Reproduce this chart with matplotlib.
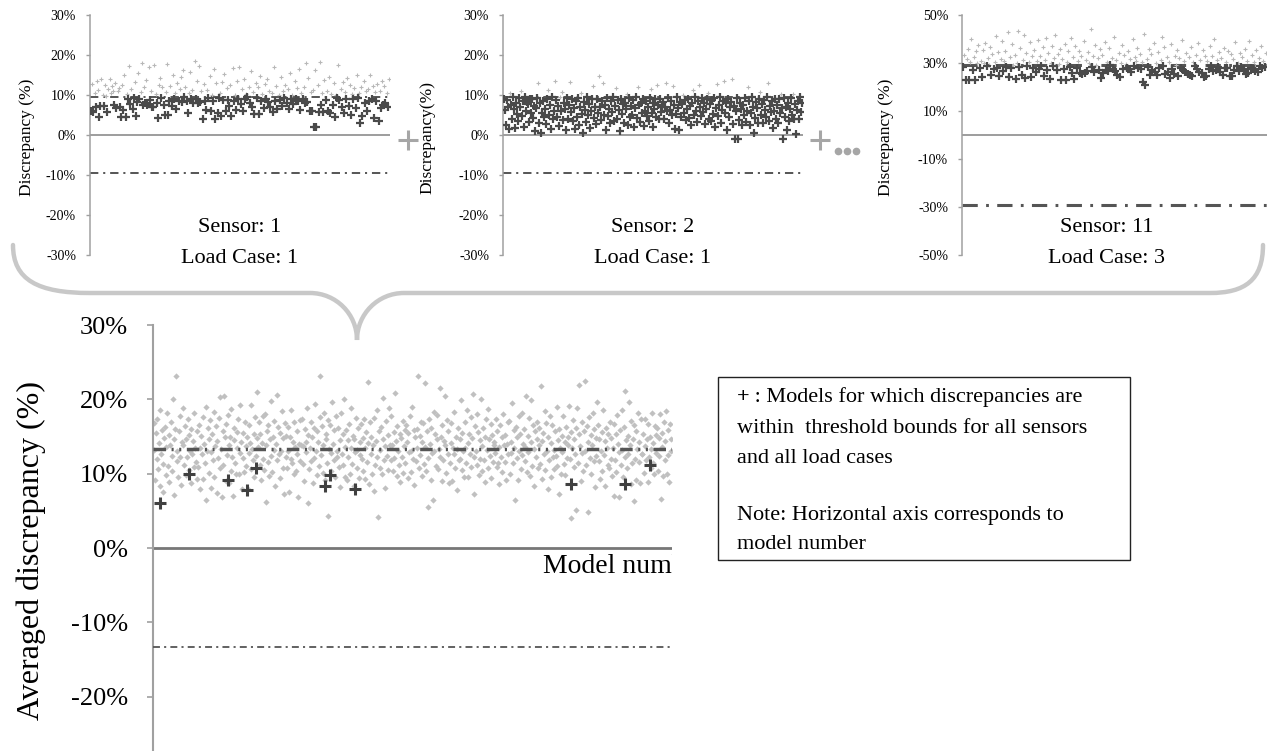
import numpy as np
import matplotlib
matplotlib.use("Agg")
import matplotlib.pyplot as plt
from matplotlib.path import Path
from matplotlib.patches import PathPatch, Rectangle

plt.rcParams["font.family"] = ["Liberation Serif", "DejaVu Serif"]
plt.rcParams["lines.scale_dashes"] = False

# ---- data (discrepancy in %, one value per model) ----
sensor1_lc1 = [
    6.1, 12.8, 5.8, 10.4, 7.0, 13.6, 11.2, 4.6, 7.2, 14.0, 10.1, 7.3, 12.4, 9.8, 5.7, 11.5, 13.9, 10.6, 12.2, 11.0,
    7.4, 12.9, 6.8, 10.9, 11.8, 7.1, 4.5, 12.5, 6.2, 15.1, 4.4, 10.2, 8.9, 17.3, 7.8, 11.4, 6.5, 9.2, 13.2, 4.7,
    8.3, 15.6, 9.0, 10.7, 18.1, 7.5, 12.0, 8.0, 13.8, 7.6, 16.9, 8.8, 11.1, 6.9, 7.0, 17.6, 10.3, 8.1, 4.3, 12.6,
    14.2, 9.3, 11.9, 7.4, 5.0, 10.8, 17.7, 4.9, 8.4, 12.3, 7.2, 15.0, 9.1, 10.5, 6.4, 13.1, 8.6, 11.6, 14.5, 8.2,
    16.2, 9.4, 12.1, 8.5, 5.5, 10.4, 15.8, 8.9, 11.3, 7.9, 18.6, 9.0, 13.5, 8.0, 17.2, 8.3, 10.9, 4.1, 12.7, 8.6,
    6.2, 11.2, 9.3, 14.7, 6.1, 10.1, 8.4, 16.4, 4.0, 12.9, 5.6, 9.2, 10.6, 4.8, 13.3, 8.7, 15.2, 5.9, 11.7, 8.8,
    7.3, 12.4, 4.7, 16.8, 8.5, 10.0, 6.3, 13.6, 9.1, 17.0, 7.7, 11.5, 6.0, 14.1, 8.9, 10.3, 9.4, 12.0, 8.0, 16.0,
    7.1, 10.8, 5.3, 13.0, 9.2, 11.9, 5.2, 14.8, 8.6, 10.2, 6.8, 12.8, 9.0, 13.9, 8.3, 11.1, 7.0, 10.6, 5.8, 16.9,
    8.4, 12.2, 6.6, 9.9, 8.8, 14.4, 7.2, 10.9, 9.3, 12.6, 8.1, 11.4, 6.4, 15.5, 8.9, 10.1, 7.8, 13.4, 9.1, 11.8,
    8.5, 16.4, 6.3, 10.5, 9.0, 12.1, 7.9, 17.9, 8.2, 14.2, 5.9, 10.7, 6.1, 11.3, 2.1, 16.3, 1.9, 12.5, 5.8, 18.3,
    7.6, 10.4, 5.7, 13.7, 8.8, 11.0, 6.0, 14.6, 5.5, 10.2, 7.4, 12.9, 4.4, 9.9, 9.2, 17.4, 8.7, 11.6, 6.9, 13.2,
    5.6, 10.8, 8.9, 14.3, 7.2, 12.4, 5.1, 10.3, 9.0, 11.7, 6.7, 15.0, 9.3, 10.6, 2.9, 12.1, 4.8, 13.6, 8.0, 10.9,
    5.9, 11.5, 8.6, 14.9, 9.1, 12.3, 4.3, 10.7, 8.4, 12.8, 3.4, 11.1, 6.7, 13.5, 7.4, 12.2, 8.1, 10.4, 7.0, 14.0,
]
sensor2_lc1 = [
    9.1, 6.2, 2.5, 8.8, 6.9, 1.4, 10.6, 7.5, 4.0, 9.4, 6.6, 1.8, 8.1, 5.2, 3.6, 9.2, 7.0, 10.9, 4.8, 8.6,
    2.1, 9.5, 6.0, 8.3, 7.7, 3.3, 8.9, 5.4, 9.0, 4.2, 7.3, 1.0, 6.8, 9.3, 12.9, 3.0, 7.9, 0.6, 5.6, 8.4,
    4.5, 6.4, 2.7, 9.1, 11.2, 5.0, 7.6, 1.6, 9.4, 3.9, 6.1, 13.6, 8.7, 4.4, 7.2, 2.2, 9.6, 5.9, 10.8, 3.7,
    8.0, 6.5, 1.2, 9.2, 4.1, 7.4, 13.2, 5.7, 9.0, 3.5, 6.7, 1.5, 8.5, 4.6, 9.3, 2.4, 7.1, 10.5, 5.3, 0.5,
    8.2, 6.3, 3.2, 9.4, 4.9, 7.8, 1.7, 6.0, 8.9, 12.3, 4.3, 7.0, 2.8, 9.1, 5.5, 14.7, 6.9, 3.8, 8.6, 13.1,
    5.1, 7.5, 1.3, 9.3, 4.7, 6.6, 2.9, 8.4, 5.8, 9.5, 3.4, 7.2, 11.8, 4.0, 8.8, 6.2, 1.1, 9.0, 5.2, 7.7,
    3.1, 8.1, 6.4, 10.2, 2.6, 9.2, 4.5, 7.3, 5.0, 8.7, 1.9, 6.8, 9.4, 4.2, 12.0, 7.6, 3.3, 8.0, 5.6, 9.1,
    2.3, 6.1, 8.5, 4.8, 7.0, 3.6, 9.3, 11.5, 5.4, 7.9, 2.0, 6.5, 8.9, 4.4, 12.4, 7.4, 3.9, 9.0, 5.7, 6.9,
    8.3, 4.0, 7.1, 13.0, 5.9, 9.2, 3.0, 6.3, 8.6, 4.9, 12.2, 7.5, 1.4, 5.3, 9.4, 6.7, 1.2, 8.2, 4.6, 7.8,
    10.1, 5.5, 8.8, 3.7, 6.4, 9.1, 4.3, 7.2, 2.5, 8.0, 11.3, 5.0, 9.5, 6.0, 3.2, 8.4, 12.6, 7.0, 4.8, 9.3,
    5.8, 8.1, 2.8, 6.6, 9.0, 10.4, 4.1, 7.7, 3.5, 8.7, 5.2, 9.2, 2.1, 6.8, 12.8, 4.7, 7.4, 9.4, 3.0, 6.2,
    8.5, 13.5, 5.6, 7.9, 1.3, 9.1, 4.4, 6.9, 8.3, 14.1, 2.7, 7.2, -0.9, 5.9, 9.3, -1.0, 3.8, 8.0, 6.5, 2.4,
    7.6, 4.9, 9.2, 3.3, 6.1, 12.1, 8.6, 2.6, 5.4, 9.4, 7.0, 0.6, 4.2, 8.2, 6.7, 3.1, 9.0, 10.7, 5.1, 7.8,
    2.9, 8.8, 6.3, 4.5, 9.5, 13.0, 3.6, 7.3, 5.7, 8.4, 1.8, 6.0, 9.1, 4.0, 7.5, 3.0, 8.9, 5.5, 10.3, 6.8,
    -0.9, 9.2, 4.6, 7.1, 1.2, 8.0, 3.4, 6.4, 9.3, 5.0, 10.2, 4.1, 7.7, 0.3, 6.2, 8.5, 3.9, 9.4, 5.8, 7.9,
]
sensor11_lc3 = [
    28.4, 33.2, 23.1, 31.5, 36.0, 22.8, 30.6, 40.1, 27.2, 32.4, 23.0, 34.8, 29.8, 37.5, 27.9, 31.0, 24.0, 35.6, 30.2, 38.3,
    28.8, 32.1, 29.1, 36.7, 24.9, 33.9, 27.6, 30.4, 41.2, 28.1, 34.5, 24.6, 31.8, 39.0, 26.7, 30.9, 35.1, 28.5, 42.8, 24.1,
    32.7, 27.9, 37.8, 29.3, 33.5, 23.4, 30.1, 43.4, 28.2, 36.2, 25.0, 31.2, 41.6, 23.7, 34.0, 28.6, 30.5, 38.9, 24.3, 32.9,
    28.0, 35.4, 26.2, 30.8, 39.7, 27.3, 33.1, 28.9, 36.5, 24.4, 31.4, 40.3, 27.0, 34.3, 23.5, 30.0, 37.1, 28.7, 32.2, 41.8,
    26.9, 33.7, 29.6, 35.8, 23.0, 31.6, 27.4, 38.0, 22.9, 30.3, 34.9, 28.3, 40.6, 26.0, 32.5, 23.2, 36.9, 27.8, 30.7, 35.2,
    25.9, 33.0, 25.4, 39.3, 25.7, 31.1, 26.6, 34.6, 30.0, 44.0, 28.2, 32.8, 26.3, 37.4, 29.2, 31.9, 27.1, 35.7, 23.9, 33.4,
    26.0, 38.7, 27.0, 30.6, 26.5, 36.1, 29.0, 32.0, 27.7, 41.0, 26.8, 31.3, 25.1, 34.2, 24.2, 30.2, 37.7, 27.5, 33.3, 29.4,
    28.1, 35.0, 27.3, 31.7, 26.4, 39.9, 28.7, 32.3, 30.9, 36.4, 28.0, 33.6, 27.6, 30.4, 22.0, 42.2, 21.0, 31.5, 28.5, 35.9,
    24.8, 33.8, 27.2, 38.2, 26.1, 30.1, 24.9, 34.4, 27.9, 31.1, 40.8, 28.6, 36.6, 25.5, 32.6, 26.2, 30.5, 23.6, 37.9, 27.4,
    25.6, 33.1, 29.2, 35.3, 24.7, 31.9, 28.0, 39.5, 26.9, 30.8, 26.4, 34.0, 25.3, 32.4, 25.0, 36.8, 24.5, 30.3, 28.9, 33.5,
    27.7, 38.4, 26.2, 31.4, 25.9, 35.5, 24.0, 32.9, 24.4, 30.7, 27.5, 37.0, 28.8, 33.0, 26.5, 39.8, 27.1, 31.2, 28.3, 34.7,
    26.1, 32.0, 25.2, 36.3, 28.0, 30.6, 27.8, 35.2, 24.6, 33.7, 24.7, 31.6, 27.0, 38.6, 28.9, 30.1, 26.7, 34.1, 28.2, 32.7,
    27.3, 36.0, 25.5, 31.0, 25.8, 39.2, 28.1, 33.2, 27.6, 30.4, 26.8, 35.6, 26.3, 32.1, 28.9, 37.2, 27.9, 30.9, 28.3, 34.3,
]
thresholds = [9.5, 9.5, 29.0]
panel_titles = ["Sensor: 1\nLoad Case: 1", "Sensor: 2\nLoad Case: 1", "Sensor: 11\nLoad Case: 3"]
panel_ylabels = ["Discrepancy (%)", "Discrepancy(%)", "Discrepancy (%)"]
small_ticks = [[30, 20, 10, 0, -10, -20, -30], [30, 20, 10, 0, -10, -20, -30], [50, 30, 10, -10, -30, -50]]
small_ticklabels = [["30%", "20%", "10%", "0%", "-10%", "-20%", "-30%"],
                    ["30%", "20%", "10%", "0%", "-10%", "-20%", "-30%"],
                    ["50%", "30%", "10%", "-10%", "-30%", "-50%"]]

averaged = [
    16.8, 13.2, 9.1, 15.5, 12.0, 17.4, 10.6, 14.1, 8.3, 18.5, 12.7, 15.9, 11.3, 7.6, 14.8, 16.3, 9.8, 13.6, 18.1, 11.0,
    15.2, 8.9, 13.9, 17.0, 10.3, 12.4, 20.1, 14.6, 7.1, 16.0, 23.1, 11.7, 13.1, 9.5, 15.7, 17.8, 12.2, 8.5, 14.3, 18.9,
    13.9, 11.2, 16.4, 9.8, 14.6, 12.3, 17.3, 10.5, 15.2, 13.0, 8.7, 16.0, 12.6, 14.4, 10.9, 18.1, 13.5, 11.6, 15.8, 9.3,
    10.9, 16.6, 13.4, 7.9, 15.1, 12.6, 17.6, 9.3, 14.0, 11.5, 19.0, 6.4, 13.0, 16.2, 10.1, 14.7, 17.2, 8.1, 12.9, 15.4,
    11.8, 18.3, 9.6, 13.7, 16.4, 7.4, 14.4, 12.1, 17.5, 10.7, 20.3, 13.3, 6.9, 15.8, 11.2, 20.4, 14.9, 9.0, 16.7, 12.5,
    17.9, 8.7, 13.8, 15.0, 10.4, 18.7, 12.3, 7.0, 14.5, 16.1, 11.4, 9.9, 15.6, 13.5, 17.3, 10.0, 12.8, 19.2, 14.2, 8.0,
    12.1, 15.5, 10.2, 17.0, 13.7, 11.0, 14.9, 8.0, 16.6, 12.8, 14.1, 10.6, 19.3, 13.3, 11.9, 15.4, 9.6, 17.6, 12.4, 14.8,
    21.0, 13.6, 16.9, 11.1, 15.3, 9.2, 14.1, 17.7, 12.0, 10.5, 18.0, 13.9, 6.2, 15.8, 11.6, 16.5, 9.7, 14.6, 12.4, 19.8,
    10.2, 15.0, 13.2, 17.1, 8.4, 14.0, 20.6, 11.9, 16.3, 12.6, 9.4, 15.5, 13.0, 18.4, 10.8, 14.8, 7.2, 16.8, 12.2, 15.1,
    10.8, 16.3, 13.1, 7.5, 15.0, 12.0, 18.5, 11.4, 14.3, 9.9, 16.9, 13.6, 10.3, 15.7, 12.7, 6.9, 14.0, 17.2, 11.7, 13.8,
    17.4, 11.3, 13.7, 9.0, 16.0, 14.3, 12.9, 18.8, 6.0, 15.2, 10.6, 13.5, 17.0, 11.7, 14.9, 8.8, 16.2, 12.1, 19.4, 13.1,
    9.8, 15.7, 14.2, 11.0, 17.6, 23.2, 12.5, 16.4, 10.1, 13.8, 18.2, 9.1, 15.4, 14.7, 11.5, 17.2, 4.3, 13.3, 16.6, 12.8,
    10.4, 19.6, 14.0, 11.8, 15.9, 9.5, 17.8, 13.0, 12.3, 16.1, 10.9, 14.5, 8.2, 18.1, 12.7, 15.3, 11.2, 20.0, 13.6, 9.6,
    15.9, 9.1, 14.5, 12.2, 16.7, 10.0, 13.4, 18.9, 11.3, 15.1, 8.4, 14.7, 12.9, 17.5, 10.7, 13.2, 16.1, 9.4, 14.2, 12.5,
    16.7, 12.0, 14.8, 10.3, 17.3, 13.4, 9.3, 15.6, 11.6, 22.3, 14.1, 8.6, 16.9, 12.6, 15.0, 10.0, 13.9, 7.7, 17.5, 11.1,
    14.4, 18.6, 12.2, 4.2, 15.8, 10.7, 13.2, 16.3, 9.9, 14.6, 20.2, 11.9, 13.7, 8.1, 17.1, 12.4, 15.2, 10.5, 18.9, 13.8,
    17.8, 11.8, 13.9, 10.4, 15.6, 12.1, 20.8, 14.4, 9.7, 16.4, 13.0, 11.1, 15.3, 8.9, 14.8, 12.3, 17.1, 10.1, 13.7, 15.9,
    11.4, 16.5, 14.3, 9.4, 15.5, 12.9, 17.7, 10.2, 13.1, 19.0, 12.0, 15.9, 8.5, 14.9, 11.7, 16.0, 13.5, 23.1, 10.8, 15.1,
    12.5, 17.0, 9.7, 14.2, 16.8, 11.3, 13.6, 22.2, 10.4, 15.7, 12.1, 5.5, 17.4, 14.0, 9.2, 16.2, 12.8, 6.4, 18.3, 13.0,
    15.4, 11.0, 14.7, 17.9, 10.6, 13.3, 21.5, 12.3, 15.0, 9.0, 16.6, 11.8, 14.4, 20.4, 13.9, 10.1, 17.2, 12.7, 15.8, 8.7,
    11.5, 14.1, 16.8, 9.0, 13.5, 12.6, 18.3, 10.8, 15.0, 13.3, 7.8, 16.2, 11.9, 14.6, 12.0, 19.9, 10.5, 15.5, 13.1, 9.5,
    13.4, 16.9, 11.5, 18.5, 14.1, 9.6, 15.3, 12.6, 17.6, 10.9, 14.8, 20.7, 12.2, 7.3, 16.4, 13.1, 18.0, 11.2, 15.6, 9.8,
    14.5, 12.0, 20.0, 13.7, 10.3, 16.1, 11.9, 15.0, 8.9, 17.3, 13.2, 10.7, 18.7, 14.6, 12.4, 16.7, 9.4, 15.2, 11.6, 13.9,
    14.3, 12.8, 17.4, 10.9, 15.8, 11.4, 13.6, 8.6, 16.5, 12.2, 14.9, 10.2, 18.0, 13.8, 11.6, 15.2, 9.2, 14.0, 16.9, 12.7,
    17.1, 10.0, 14.3, 12.8, 19.5, 11.4, 15.9, 13.5, 6.5, 16.3, 12.1, 14.9, 9.1, 17.8, 13.0, 15.4, 10.6, 18.2, 12.5, 14.0,
    16.0, 11.7, 13.6, 20.5, 10.2, 15.1, 12.9, 17.5, 9.7, 14.2, 19.9, 11.0, 16.5, 13.3, 8.3, 15.7, 12.2, 14.7, 17.0, 10.8,
    13.8, 16.2, 11.3, 21.8, 14.4, 9.3, 15.5, 12.7, 18.4, 10.5, 16.8, 13.1, 7.9, 15.0, 11.8, 17.7, 14.1, 9.6, 16.6, 12.3,
    13.2, 10.6, 15.7, 12.4, 19.0, 11.0, 14.5, 7.3, 16.0, 13.4, 10.0, 15.1, 12.9, 17.7, 11.3, 14.2, 9.8, 16.3, 12.1, 13.9,
    14.9, 19.1, 12.0, 15.6, 4.0, 13.4, 17.2, 10.9, 14.6, 12.6, 16.1, 5.1, 18.8, 11.5, 15.3, 21.9, 13.7, 9.0, 16.9, 12.8,
    10.4, 15.8, 13.0, 22.4, 11.2, 16.4, 4.8, 14.3, 17.6, 12.1, 15.2, 9.9, 13.9, 18.1, 11.7, 16.0, 8.2, 14.8, 12.4, 19.7,
    16.6, 11.7, 14.7, 9.3, 13.0, 15.6, 10.4, 18.6, 12.5, 14.4, 8.3, 16.1, 13.5, 11.2, 15.3, 10.7, 17.0, 12.0, 14.8, 9.7,
    13.5, 7.0, 16.7, 11.9, 15.4, 10.2, 17.9, 14.0, 6.8, 12.9, 15.9, 11.1, 18.6, 13.2, 9.5, 16.3, 12.2, 21.1, 14.5, 10.7,
    15.1, 12.6, 19.6, 13.8, 8.6, 17.1, 11.4, 14.7, 6.3, 16.5, 12.0, 15.7, 9.2, 13.3, 18.2, 11.6, 14.2, 8.8, 17.4, 12.7,
    12.6, 15.4, 10.1, 17.3, 13.7, 11.8, 14.6, 8.9, 16.7, 12.3, 15.0, 10.8, 13.3, 18.2, 11.5, 14.1, 9.9, 16.4, 12.8, 15.2,
    16.1, 10.3, 14.8, 12.4, 18.0, 6.6, 15.5, 13.6, 9.7, 17.0, 11.8, 14.4, 18.4, 10.0, 15.9, 12.5, 8.9, 16.7, 13.1, 14.6,
]
accepted_models = [10, 48, 101, 127, 139, 232, 239, 273, 564, 637, 671]
accepted_values = [6.0, 10.0, 9.1, 7.8, 10.7, 8.4, 9.8, 7.9, 8.6, 8.6, 11.2]
avg_threshold = 13.3
big_ticks = [30, 20, 10, 0, -10, -20]
big_ticklabels = ["30%", "20%", "10%", "0%", "-10%", "-20%"]

W, H = 1267, 751
fig = plt.figure(figsize=(W / 100, H / 100), dpi=100)


def px_axes(x0, ytop, w, h):
    return fig.add_axes([x0 / W, 1 - (ytop + h) / H, w / W, h / H])


# overlay for the brace, plus signs and the note box
ov = px_axes(0, 0, W, H)
ov.set_xlim(0, W)
ov.set_ylim(H, 0)
ov.axis("off")
verts = [(13, 245), (13, 280), (38, 293), (90, 293),
         (310, 293),
         (336, 293), (357, 314), (357, 340),
         (357, 314), (378, 293), (404, 293),
         (1210, 293),
         (1245, 293), (1263, 280), (1263, 245)]
codes = [Path.MOVETO, Path.CURVE4, Path.CURVE4, Path.CURVE4,
         Path.LINETO,
         Path.CURVE4, Path.CURVE4, Path.CURVE4,
         Path.CURVE4, Path.CURVE4, Path.CURVE4,
         Path.LINETO,
         Path.CURVE4, Path.CURVE4, Path.CURVE4]
ov.add_patch(PathPatch(Path(verts, codes), fill=False, edgecolor="#c8c8c8", lw=3.2, capstyle="round"))
ov.plot([408, 820], [140, 140], ls="none", marker="+", ms=15, mew=2.2, color="#a6a6a6")
ov.plot([838, 847, 856], [151, 151, 151], ls="none", marker="o", ms=4.5, color="#a6a6a6")

ov.add_patch(Rectangle((718, 377), 412, 183, fill=False, edgecolor="#222222", lw=1))
ov.text(737, 402, "+", fontsize=16, fontweight="bold", va="baseline", ha="left")
ov.text(749, 402, " : Models for which discrepancies are", fontsize=16, va="baseline", ha="left")
ov.text(737, 433, "within  threshold bounds for all sensors", fontsize=16, va="baseline", ha="left")
ov.text(737, 463, "and all load cases", fontsize=16, va="baseline", ha="left")
ov.text(737, 520, "Note: Horizontal axis corresponds to", fontsize=16, va="baseline", ha="left")
ov.text(737, 549, "model number", fontsize=16, va="baseline", ha="left")

# ---- three small panels ----
panel_x = [90, 503, 962]
panel_w = [300, 300, 305]
ylims = [(-30, 30), (-30, 30), (-50, 50)]
label_x = [27, 427, 886]
for k, vals in enumerate([sensor1_lc1, sensor2_lc1, sensor11_lc3]):
    ax = px_axes(panel_x[k], 15, panel_w[k], 240)
    ax.patch.set_visible(False)
    vals = np.array(vals)
    model = np.arange(1, len(vals) + 1)
    inside = np.abs(vals) <= thresholds[k]
    t = thresholds[k]
    lw_t = 2.2 if k == 2 else 1.4
    dash = (0, (11, 6, 2, 6)) if k == 2 else (0, (6, 3.5, 1.5, 3.5))
    ax.axhline(0, color="#8c8c8c", lw=1.2, zorder=1)
    ax.axhline(t, color="#555555", lw=lw_t, ls=dash, zorder=1.5)
    ax.axhline(-t, color="#555555", lw=lw_t, ls=dash, zorder=1.5)
    ax.plot(model[~inside], vals[~inside], ls="none", marker="+", ms=3, mew=0.8, color="#b8b8b8", zorder=2)
    ax.plot(model[inside], vals[inside], ls="none", marker="+", ms=5.5, mew=1.6, color="#4a4a4a", zorder=3)
    ax.set_xlim(0, len(vals) + 1)
    ax.set_ylim(*ylims[k])
    ax.set_yticks(small_ticks[k])
    ax.set_yticklabels(small_ticklabels[k])
    ax.set_xticks([])
    for s in ["top", "right", "bottom"]:
        ax.spines[s].set_visible(False)
    ax.spines["left"].set_color("#a0a0a0")
    ax.spines["left"].set_linewidth(1.1)
    ax.tick_params(axis="y", direction="out", length=3, width=1, color="#a0a0a0", pad=7, labelsize=10)
    fig.text(label_x[k] / W, 1 - 137 / H, panel_ylabels[k], rotation=90, fontsize=12.5,
             ha="center", va="center")
    cx = panel_x[k] + 150 if k < 2 else 1107
    fig.text(cx / W, 1 - 228 / H, panel_titles[k].split("\n")[0], fontsize=16, ha="center", va="center")
    fig.text(cx / W, 1 - 258 / H, panel_titles[k].split("\n")[1], fontsize=16, ha="center", va="center")

# ---- bottom panel: averaged discrepancy ----
bx = px_axes(153, 325, 519, 446)
bx.patch.set_visible(False)
avg = np.array(averaged)
n = len(avg)
bx.axhline(0, color="#777777", lw=2, zorder=1)
bx.plot(np.arange(1, n + 1), avg, ls="none", marker="D", ms=3.2, color="#c0c0c0", mec="none", zorder=2)
bx.axhline(avg_threshold, color="#555555", lw=2.5, ls=(0, (9, 4, 1.5, 4, 1.5, 4)), zorder=3)
bx.axhline(-avg_threshold, color="#555555", lw=1.3, ls=(0, (5, 3, 1.5, 3)), zorder=3)
bx.plot(accepted_models, accepted_values, ls="none", marker="+", ms=9, mew=2.2, color="#404040", zorder=4)
bx.set_xlim(0, n + 1)
bx.set_ylim(-30, 30)
bx.set_yticks(big_ticks)
bx.set_yticklabels(big_ticklabels)
bx.set_xticks([])
for s in ["top", "right", "bottom"]:
    bx.spines[s].set_visible(False)
bx.spines["left"].set_color("#a0a0a0")
bx.spines["left"].set_linewidth(1.5)
bx.tick_params(axis="y", direction="out", length=4, width=1.2, color="#a0a0a0", pad=14, labelsize=19)
bx.text(0.751 * (n + 1), -3.4, "Model number", fontsize=20, ha="left", va="baseline", clip_on=True)
fig.text(31 / W, 1 - 550 / H, "Averaged discrepancy (%)", rotation=90, fontsize=23, ha="center", va="center")

fig.savefig("out.png", dpi=100)
